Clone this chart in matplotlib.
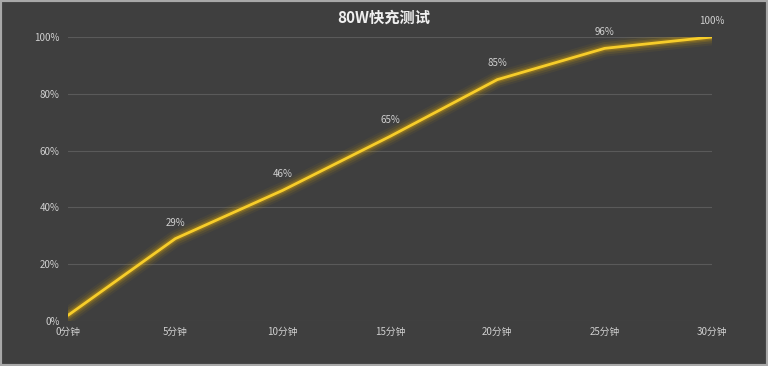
import matplotlib.pyplot as plt
from matplotlib.patches import Rectangle

plt.rcParams['font.family'] = ['Noto Sans CJK SC', 'DejaVu Sans']

minutes = [0, 5, 10, 15, 20, 25, 30]
x_labels = ["0分钟", "5分钟", "10分钟", "15分钟", "20分钟", "25分钟", "30分钟"]
charge = [2, 29, 46, 65, 85, 96, 100]
point_labels = ["", "29%", "46%", "65%", "85%", "96%", "100%"]
y_ticks = [0, 20, 40, 60, 80, 100]

bg = "#3f3f3f"
fig = plt.figure(figsize=(7.68, 3.66), dpi=100, facecolor=bg)
ax = fig.add_axes([68 / 768, 1 - 321 / 366, 644 / 768, 284 / 366])
ax.set_facecolor(bg)

# glow under the line
for lw, a in [(12, 0.07), (9, 0.12), (6, 0.2), (4, 0.3)]:
    ax.plot(minutes, charge, color="#c89a10", lw=lw, alpha=a, solid_capstyle="round")
ax.plot(minutes, charge, color="#f7cd2a", lw=2, solid_capstyle="round")

for xv, yv, t in zip(minutes, charge, point_labels):
    if t:
        ax.annotate(t, (xv, yv), xytext=(0, 8), textcoords="offset points",
                    ha="center", va="bottom", color="#d0d0d0", fontsize=7)

ax.set_xlim(0, 30)
ax.set_ylim(0, 100)
ax.set_xticks(minutes)
ax.set_xticklabels(x_labels)
ax.set_yticks(y_ticks)
ax.set_yticklabels([f"{v}%" for v in y_ticks])
ax.tick_params(colors="#d0d0d0", labelsize=7, length=0)
ax.tick_params(axis="x", pad=4)
ax.tick_params(axis="y", pad=6)
ax.grid(axis="y", color="#5a5a5a", lw=0.8)
ax.set_axisbelow(True)
for s in ax.spines.values():
    s.set_visible(False)

fig.text(0.5, 1 - 18 / 366, "80W快充测试", ha="center", va="center",
         color="#f0f0f0", fontsize=11, fontweight="bold")

fig.patches.append(Rectangle((0, 0), 1, 1, transform=fig.transFigure,
                             fill=False, edgecolor="#a8a8a8", lw=3))

fig.savefig("out.png", dpi=100, facecolor=bg)
